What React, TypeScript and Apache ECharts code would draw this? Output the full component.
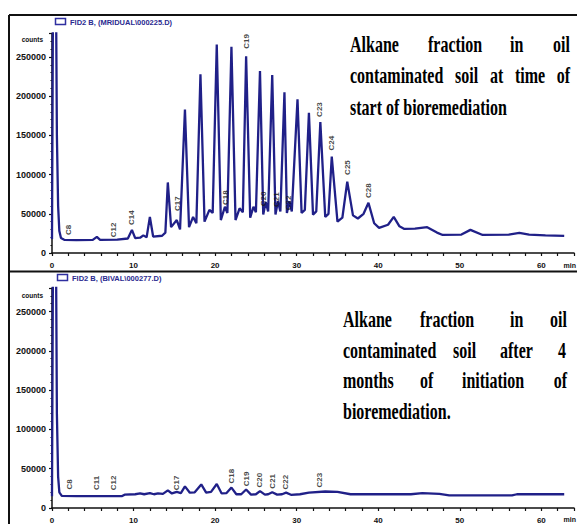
import React, { useEffect, useRef } from "react";
import * as echarts from "echarts";

// ---- Data (retention time in minutes, detector counts) ----
const topTimes = [
  0.0, 0.15, 0.45, 0.6, 0.75, 0.9, 1.1, 1.5, 3.0, 5.0, 5.5, 5.9, 8.0, 9.3, 9.8, 10.2, 10.8, 11.2, 11.6, 12.0,
  12.4, 13.5, 13.9, 14.2, 14.6, 15.3, 15.7, 16.3, 16.8, 17.3, 17.7, 18.2, 18.7, 19.3, 19.7, 20.2, 20.7, 21.2,
  21.5, 22.0, 22.5, 23.0, 23.4, 23.8, 24.3, 24.7, 25.0, 25.5, 25.9, 26.2, 26.5, 27.0, 27.4, 27.7, 28.0, 28.5,
  28.8, 29.1, 29.4, 30.1, 30.6, 31.0, 31.5, 32.0, 32.4, 32.9, 33.5, 33.9, 34.3, 35.0, 35.6, 36.2, 36.9, 37.5,
  38.2, 38.8, 39.5, 40.1, 41.2, 41.9, 42.6, 43.2, 44.5, 46.0, 47.2, 47.9, 50.2, 51.3, 52.8, 56.0, 57.3, 58.5,
  60.5, 62.8,
];
const topCounts = [
  18000, 400000, 400000, 150000, 60000, 28000, 19000, 16800, 16500, 16700, 20500, 16800, 17000, 18500, 29500,
  19000, 19500, 22500, 20000, 46000, 21000, 22000, 26000, 90000, 33000, 42000, 30000, 183000, 33000, 46000,
  38000, 228000, 40000, 55000, 51000, 266000, 42000, 59000, 51000, 263000, 42000, 57000, 52000, 251000, 45000,
  59000, 52000, 232000, 49000, 65000, 53000, 227000, 49000, 66000, 53000, 205000, 51000, 66000, 53000, 196000,
  51000, 55000, 179000, 49000, 53000, 167000, 46000, 50000, 123000, 40000, 45000, 91000, 48000, 44000, 50000,
  64000, 38000, 32000, 36000, 46000, 34000, 30700, 31000, 33000, 26000, 23000, 23500, 29500, 23000, 23500,
  25600, 23500, 22500, 21800,
];

const bottomTimes = [
  0.0, 0.15, 0.45, 0.6, 0.75, 0.9, 1.2, 3.0, 6.0, 8.6, 8.9, 10.2, 10.8, 11.3, 12.0, 12.5, 13.0, 13.6, 14.2,
  14.7, 15.3, 15.8, 16.3, 16.9, 17.5, 18.3, 18.9, 19.5, 20.2, 20.8, 21.4, 22.0, 22.6, 23.2, 23.8, 24.4, 25.0,
  25.5, 26.1, 26.5, 27.0, 27.6, 28.2, 28.7, 29.3, 30.4, 31.5, 33.5, 35.0, 36.6, 44.0, 45.4, 47.5, 48.7, 56.4,
  57.0, 62.8,
];
const bottomCounts = [
  15000, 400000, 400000, 120000, 40000, 20000, 15500, 15000, 15000, 15200, 17000, 17500, 18500, 17500, 19000,
  17500, 18500, 18000, 22500, 18500, 20500, 19000, 27500, 19500, 20000, 30000, 19500, 20500, 30500, 18500,
  19000, 26000, 17500, 17500, 23500, 17000, 17500, 21500, 17000, 17500, 20000, 17000, 17500, 19500, 16800,
  17500, 19500, 21000, 20500, 17500, 17500, 19000, 18000, 16000, 16000, 17500, 17500,
];

const topPeakNames = ["C8", "C12", "C14", "C17", "C18", "C19", "C20", "C21", "C22", "C23", "C24", "C25", "C28"];
const topPeakTimes = [2.0, 7.5, 9.8, 15.4, 21.3, 23.9, 25.9, 27.5, 29.0, 32.8, 34.3, 36.2, 38.8];
const topPeakLabelCounts = [29500, 29500, 45000, 63000, 70500, 270000, 69000, 68000, 64000, 183000, 140000, 109000, 79500];

const bottomPeakNames = ["C8", "C11", "C12", "C17", "C18", "C19", "C20", "C21", "C22", "C23"];
const bottomPeakTimes = [2.2, 5.5, 7.5, 15.3, 22.0, 23.8, 25.5, 27.0, 28.6, 32.8];
const bottomPeakLabelCounts = [30000, 32000, 32000, 32000, 40500, 37000, 35500, 34000, 33000, 35500];

const xMin = 0;
const xMax = 64;
const xInterval = 2;
const xLabelStep = 10;
const yMin = 0;
const yMax = 280000;
const yInterval = 50000;

const topTitle = "FID2 B, (MRIDUAL\\000225.D)";
const bottomTitle = "FID2 B, (BIVAL\\000277.D)";
const yUnit = "counts";
const xUnit = "min";

const topCaption = [
  ["Alkane", "fraction", "in", "oil"],
  ["contaminated", "soil", "at", "time", "of"],
  ["start of bioremediation"],
];
const bottomCaption = [
  ["Alkane", "fraction", "in", "oil"],
  ["contaminated", "soil", "after", "4"],
  ["months", "of", "initiation", "of"],
  ["bioremediation."],
];

// layout (pixels) for the caption words
const topCaptionX = [
  [350, 428, 510, 570],
  [350, 455, 490, 515, 570],
  [350],
];
const topCaptionY = [45, 76, 108];
const bottomCaptionX = [
  [343, 420, 510, 567],
  [343, 453, 500, 566],
  [343, 420, 462, 567],
  [343],
];
const bottomCaptionY = [320, 351, 381, 412];

const LINE = "#202088";
const AXIS = "#111111";

function captionGraphics(words: string[][], xs: number[][], ys: number[]) {
  const out: any[] = [];
  words.forEach((line, li) => {
    line.forEach((w, wi) => {
      const isLastJustified = line.length > 1 && wi === line.length - 1;
      out.push({
        type: "text",
        x: xs[li][wi],
        y: ys[li],
        scaleY: 1.4,
        silent: true,
        style: {
          text: w,
          fill: "#000",
          font: "bold 16px 'Liberation Serif', 'Times New Roman', serif",
          align: isLastJustified ? "right" : "left",
          verticalAlign: "middle",
        },
      });
    });
  });
  return out;
}

function axisPair(gridIndex: number) {
  const xAxis = {
    type: "value",
    gridIndex,
    min: xMin,
    max: xMax,
    interval: xInterval,
    axisLine: { show: true, onZero: false, lineStyle: { color: AXIS, width: 1.5 } },
    axisTick: { show: true, length: 3, lineStyle: { color: AXIS, width: 1.2 } },
    splitLine: { show: false },
    axisLabel: {
      margin: 8,
      fontSize: 8,
      fontWeight: "bold",
      color: "#111",
      fontFamily: "'Liberation Sans', Arial, sans-serif",
      formatter: (v: number) => (v % xLabelStep === 0 ? String(v) : ""),
    },
  };
  const yAxis = {
    type: "value",
    gridIndex,
    min: yMin,
    max: yMax,
    interval: yInterval,
    axisLine: { show: true, lineStyle: { color: AXIS, width: 1.5 } },
    axisTick: { show: true, length: 3, lineStyle: { color: AXIS, width: 1.2 } },
    minorTick: { show: true, splitNumber: 5, length: 1.5, lineStyle: { color: AXIS, width: 1 } },
    splitLine: { show: false },
    minorSplitLine: { show: false },
    axisLabel: {
      margin: 6,
      fontSize: 9,
      fontWeight: "bold",
      color: "#111",
      showMaxLabel: false,
      fontFamily: "'Liberation Sans', Arial, sans-serif",
      formatter: (v: number) => (v % yInterval === 0 ? String(v) : ""),
    },
  };
  return { xAxis, yAxis };
}

function peakLabelSeries(names: string[], times: number[], counts: number[], idx: number) {
  return {
    type: "scatter",
    xAxisIndex: idx,
    yAxisIndex: idx,
    symbol: "circle",
    symbolSize: 2,
    silent: true,
    z: 5,
    itemStyle: { color: "rgba(0,0,0,0)" },
    data: names.map((n, i) => ({ name: n, value: [times[i], counts[i]] })),
    label: {
      show: true,
      position: "inside",
      rotate: 90,
      formatter: (p: any) => p.name,
      fontSize: 8,
      fontWeight: "bold",
      color: "#151515",
      fontFamily: "'Liberation Sans', Arial, sans-serif",
    },
    labelLayout: { hideOverlap: false },
  };
}

export default function App() {
  const ref = useRef<HTMLDivElement>(null);

  useEffect(() => {
    if (!ref.current) return;
    const chart = echarts.init(ref.current, null, { renderer: "svg" });
    const a0 = axisPair(0);
    const a1 = axisPair(1);

    const small = "bold 7.5px 'Liberation Sans', Arial, sans-serif";

    const option: any = {
      animation: false,
      backgroundColor: "#ffffff",
      grid: [
        { left: 52, right: 1.5, top: 33.5, bottom: 271, containLabel: false },
        { left: 52, right: 1.5, top: 288, bottom: 12, containLabel: false },
      ],
      xAxis: [a0.xAxis, a1.xAxis],
      yAxis: [a0.yAxis, a1.yAxis],
      series: [
        {
          type: "line",
          xAxisIndex: 0,
          yAxisIndex: 0,
          showSymbol: false,
          symbol: "none",
          clip: true,
          silent: true,
          lineStyle: { color: LINE, width: 2.3 },
          data: topTimes.map((t, i) => [t, topCounts[i]]),
        },
        {
          type: "line",
          xAxisIndex: 1,
          yAxisIndex: 1,
          showSymbol: false,
          symbol: "none",
          clip: true,
          silent: true,
          lineStyle: { color: LINE, width: 2.3 },
          data: bottomTimes.map((t, i) => [t, bottomCounts[i]]),
        },
        peakLabelSeries(topPeakNames, topPeakTimes, topPeakLabelCounts, 0),
        peakLabelSeries(bottomPeakNames, bottomPeakTimes, bottomPeakLabelCounts, 1),
      ],
      graphic: [
        // frame
        { type: "line", silent: true, shape: { x1: 9, y1: 15, x2: 577, y2: 15 }, style: { stroke: "#111", lineWidth: 2 } },
        { type: "line", silent: true, shape: { x1: 9, y1: 15, x2: 9, y2: 524 }, style: { stroke: "#111", lineWidth: 2 } },
        { type: "line", silent: true, shape: { x1: 9, y1: 271.5, x2: 577, y2: 271.5 }, style: { stroke: "#111", lineWidth: 2 } },
        // legend icons + titles
        { type: "rect", silent: true, shape: { x: 55.5, y: 18.5, width: 10, height: 6 }, style: { fill: "#fff", stroke: "#2f2fa0", lineWidth: 1.5 } },
        { type: "text", silent: true, x: 70, y: 22, style: { text: topTitle, font: small, fill: "#2a2a90", verticalAlign: "middle" } },
        { type: "rect", silent: true, shape: { x: 57.5, y: 274.5, width: 10, height: 6 }, style: { fill: "#fff", stroke: "#2f2fa0", lineWidth: 1.5 } },
        { type: "text", silent: true, x: 72, y: 278, style: { text: bottomTitle, font: small, fill: "#2a2a90", verticalAlign: "middle" } },
        // axis units
        { type: "text", silent: true, x: 43, y: 39, style: { text: yUnit, font: "bold 6.5px 'Liberation Sans', Arial, sans-serif", fill: "#111", align: "right", verticalAlign: "middle" } },
        { type: "text", silent: true, x: 43, y: 295, style: { text: yUnit, font: "bold 6.5px 'Liberation Sans', Arial, sans-serif", fill: "#111", align: "right", verticalAlign: "middle" } },
        { type: "text", silent: true, x: 576, y: 265, style: { text: xUnit, font: "bold 7px 'Liberation Sans', Arial, sans-serif", fill: "#111", align: "right", verticalAlign: "middle" } },
        { type: "text", silent: true, x: 576, y: 519, style: { text: xUnit, font: "bold 7px 'Liberation Sans', Arial, sans-serif", fill: "#111", align: "right", verticalAlign: "middle" } },
        ...captionGraphics(topCaption, topCaptionX, topCaptionY),
        ...captionGraphics(bottomCaption, bottomCaptionX, bottomCaptionY),
      ],
    };
    chart.setOption(option);
    return () => chart.dispose();
  }, []);

  return (
    <div
      ref={ref}
      style={{ position: "fixed", left: 0, top: 0, width: 577, height: 524, background: "#fff" }}
    />
  );
}
